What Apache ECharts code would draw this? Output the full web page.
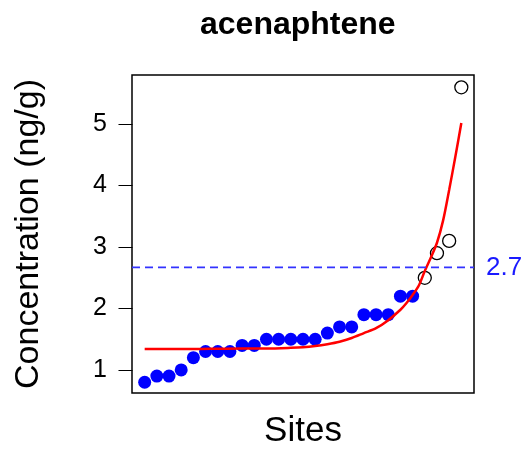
<!DOCTYPE html>
<html>
<head>
<meta charset="utf-8">
<script src="https://cdn.jsdelivr.net/npm/echarts@6/dist/echarts.min.js"></script>
<style>
html,body{margin:0;padding:0;background:#fff;}
#c{width:532px;height:456px;}
</style>
</head>
<body>
<div id="c"></div>
<script>
// Data
var titleText = 'acenaphtene';
var yAxisLabel = 'Concentration (ng/g)';
var xAxisLabel = 'Sites';
// Sorted concentrations by site rank (1..27)
var concentrations = [0.8, 0.9, 0.9, 1.0, 1.2, 1.3, 1.3, 1.3, 1.4, 1.4,
  1.5, 1.5, 1.5, 1.5, 1.5, 1.6, 1.7, 1.7, 1.9, 1.9,
  1.9, 2.2, 2.2, 2.5, 2.9, 3.1, 5.6];
// Number of leading points drawn as filled (below threshold)
var filledCount = 23;
// Fitted curve (site rank -> concentration)
var curveX = [1, 3, 5, 7, 9, 11, 13, 14, 15, 16, 17, 18, 19, 20, 21, 22, 22.5, 23, 23.5, 24, 24.5, 25, 25.5, 26, 26.5, 27];
var curveY = [1.34, 1.34, 1.34, 1.345, 1.35, 1.35, 1.36, 1.37, 1.39, 1.42, 1.46, 1.52, 1.60, 1.68, 1.81, 1.98, 2.09, 2.22, 2.37, 2.61, 2.83, 3.07, 3.43, 3.93, 4.46, 5.02];
var threshold = 2.67;
var thresholdLabel = '2.7';
var yTicks = [1, 2, 3, 4, 5];

var FONT = 'Liberation Sans, Arial, sans-serif';
var filled = [], open = [];
concentrations.forEach(function (v, i) {
  if (i < filledCount) filled.push([i + 1, v]); else open.push([i + 1, v]);
});
var curve = curveX.map(function (x, i) { return [x, curveY[i]]; });

var n = concentrations.length;
var pad = (n - 1) * 0.04;
var xMin = 1 - pad, xMax = n + pad;

var chart = echarts.init(document.getElementById('c'), null, {renderer: 'canvas'});
chart.setOption({
  animation: false,
  backgroundColor: '#fff',
  title: {
    text: titleText,
    left: 195, top: 4,
    textStyle: {fontFamily: FONT, fontWeight: 'bold', fontSize: 32, color: '#000'}
  },
  grid: {
    left: 132, right: 58, top: 75, bottom: 63,
    show: true, borderColor: '#000', borderWidth: 1.5, backgroundColor: 'transparent'
  },
  xAxis: {
    type: 'value', min: xMin, max: xMax,
    axisLine: {show: false}, axisTick: {show: false}, axisLabel: {show: false},
    splitLine: {show: false},
    name: xAxisLabel, nameLocation: 'middle', nameGap: 21,
    nameTextStyle: {fontFamily: FONT, fontSize: 35, color: '#000'}
  },
  yAxis: {
    type: 'value', min: 0.625, max: 5.8,
    axisLine: {show: false},
    axisTick: {show: true, length: 14, customValues: yTicks, lineStyle: {color: '#000', width: 1}},
    axisLabel: {show: true, customValues: yTicks, margin: 25, fontFamily: FONT, fontSize: 25, color: '#000'},
    splitLine: {show: false},
    name: yAxisLabel, nameLocation: 'middle', nameGap: 86,
    nameTextStyle: {fontFamily: FONT, fontSize: 34, color: '#000'}
  },
  series: [
    {
      type: 'scatter', data: filled, symbol: 'circle', symbolSize: 13,
      itemStyle: {color: '#0000ff', opacity: 1}, z: 2
    },
    {
      type: 'scatter', data: open, symbol: 'circle', symbolSize: 13,
      itemStyle: {color: 'rgba(0,0,0,0)', borderColor: '#000', borderWidth: 1.3, opacity: 1}, z: 2
    },
    {
      type: 'line', data: curve, showSymbol: false, symbol: 'none', smooth: 0.3,
      lineStyle: {color: '#ff0000', width: 2.5}, z: 3
    },
    {
      type: 'line', data: [[xMin, threshold], [xMax, threshold]],
      showSymbol: false, symbol: 'none', silent: true,
      lineStyle: {color: '#3333ff', type: [8, 5], width: 1.6}, z: 4,
      endLabel: {show: true, formatter: thresholdLabel, distance: 12,
        fontFamily: FONT, fontSize: 26, color: '#1a1aff'}
    }
  ]
});
</script>
</body>
</html>
